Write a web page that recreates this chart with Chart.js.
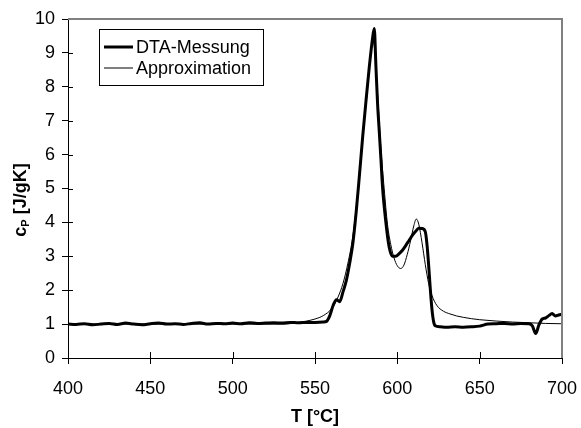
<!DOCTYPE html>
<html lang="de">
<head>
  <meta charset="UTF-8" />
  <title>cp DTA</title>
  <script src="https://cdn.jsdelivr.net/npm/chart.js"></script>
  <style>
    html, body { margin: 0; padding: 0; background: #fff; }
    #wrap { width: 581px; height: 428px; }
  </style>
</head>
<body>
  <div id="wrap"><canvas id="chart" width="581" height="428"></canvas></div>

  <script>
    // DTA-Messung (thick line)
    const dtaT = [400, 405, 410, 415, 420, 425, 430, 435, 440, 445, 450, 455, 460, 465, 470, 475, 480, 485, 490, 495,
      500, 505, 510, 515, 520, 525, 530, 535, 540, 545, 550, 555, 557, 559, 561, 563, 565, 567, 569, 571,
      573, 575, 577, 579, 581, 583, 585, 586, 587, 588, 589, 590, 591, 593, 595, 597, 599, 601, 603, 605,
      607, 609, 611, 613, 615, 617, 618, 619, 620, 621, 622, 623, 626, 630, 635, 640, 645, 650, 655, 660,
      665, 670, 675, 680, 682, 684, 686, 688, 690, 692, 694, 696, 698, 700];
    const dtaCp = [1.00, 0.99, 1.01, 0.98, 1.00, 1.02, 0.99, 1.03, 1.00, 0.98, 1.01, 1.03, 1.00, 1.01, 0.99, 1.02, 1.04, 1.00, 1.02, 1.01,
      1.03, 1.01, 1.04, 1.02, 1.03, 1.04, 1.03, 1.05, 1.04, 1.05, 1.05, 1.06, 1.08, 1.25, 1.55, 1.72, 1.66, 1.95, 2.28, 2.78,
      3.38, 4.30, 5.40, 6.55, 7.60, 8.60, 9.45, 9.72, 8.60, 7.50, 6.70, 5.90, 5.05, 4.02, 3.28, 3.00, 3.00, 3.07, 3.17, 3.31,
      3.46, 3.61, 3.73, 3.83, 3.82, 3.72, 3.35, 2.75, 2.05, 1.45, 1.08, 0.95, 0.92, 0.91, 0.92, 0.91, 0.92, 0.94, 1.00, 1.01,
      1.02, 1.00, 1.02, 1.01, 0.95, 0.72, 0.98, 1.15, 1.18, 1.25, 1.31, 1.24, 1.27, 1.29];

    // Approximation (thin line)
    const approxT = [400, 530, 540, 550, 555, 560, 564, 567, 570, 573, 576, 579, 582, 584, 585, 586, 588, 590, 592, 594,
      596, 598, 600, 602, 604, 606, 608, 610, 611.5, 613, 615, 617, 619, 621, 624, 628, 632, 636, 640, 645,
      650, 660, 670, 680, 690, 700];
    const approxCp = [1.00, 1.00, 1.05, 1.15, 1.25, 1.45, 1.80, 2.20, 2.80, 3.60, 4.90, 6.50, 8.00, 9.10, 9.35, 9.20, 7.80, 6.20, 5.00, 3.95,
      3.35, 2.95, 2.72, 2.64, 2.74, 3.05, 3.45, 3.90, 4.10, 3.95, 3.40, 2.75, 2.20, 1.85, 1.55, 1.38, 1.30, 1.24, 1.20, 1.16,
      1.13, 1.09, 1.06, 1.04, 1.02, 1.01];

    const xTicks = [400, 450, 500, 550, 600, 650, 700];
    const yTicks = [0, 1, 2, 3, 4, 5, 6, 7, 8, 9, 10];
    const seriesNames = ['DTA-Messung', 'Approximation'];

    const FONT = '"Liberation Sans", Arial, sans-serif';

    function toPoints(xs, ys) {
      return xs.map((x, i) => ({ x: x, y: ys[i] }));
    }

    // inner halves of the tick marks + grey frame on top/right
    const framePlugin = {
      id: 'frame',
      afterDraw(chart) {
        const { ctx, chartArea: a, scales } = chart;
        ctx.save();
        ctx.strokeStyle = '#000';
        ctx.lineWidth = 1;
        ctx.beginPath();
        xTicks.forEach(v => {
          const px = Math.round(scales.x.getPixelForValue(v)) + 0.5;
          ctx.moveTo(px, a.bottom);
          ctx.lineTo(px, a.bottom - 6);
        });
        yTicks.forEach(v => {
          const py = Math.round(scales.y.getPixelForValue(v)) + 0.5;
          ctx.moveTo(a.left, py);
          ctx.lineTo(a.left + 5, py);
        });
        ctx.stroke();

        ctx.strokeStyle = '#808080';
        ctx.lineWidth = 2;
        ctx.beginPath();
        ctx.moveTo(a.left, a.top);
        ctx.lineTo(a.right, a.top);
        ctx.lineTo(a.right, a.bottom);
        ctx.stroke();
        ctx.restore();
      }
    };

    // axis titles (y title needs a subscript) and the legend box
    const labelsPlugin = {
      id: 'labels',
      afterDraw(chart) {
        const { ctx, chartArea: a } = chart;
        ctx.save();
        ctx.fillStyle = '#000';

        // x title
        ctx.font = 'bold 18px ' + FONT;
        ctx.textAlign = 'center';
        ctx.textBaseline = 'middle';
        ctx.fillText('T [°C]', (a.left + a.right) / 2, 417);

        // y title: c_P [J/gK]
        ctx.translate(20, 200);
        ctx.rotate(-Math.PI / 2);
        const big = 'bold 18px ' + FONT;
        const small = 'bold 11px ' + FONT;
        ctx.font = big;
        const w1 = ctx.measureText('c').width;
        const w3 = ctx.measureText(' [J/gK]').width;
        ctx.font = small;
        const w2 = ctx.measureText('P').width;
        let x = -(w1 + w2 + w3) / 2;
        ctx.textAlign = 'left';
        ctx.textBaseline = 'alphabetic';
        ctx.font = big;
        ctx.fillText('c', x, 6);
        x += w1;
        ctx.font = small;
        ctx.fillText('P', x, 9);
        x += w2;
        ctx.font = big;
        ctx.fillText(' [J/gK]', x, 6);
        ctx.restore();

        // legend
        ctx.save();
        ctx.fillStyle = '#fff';
        ctx.fillRect(99, 29, 164, 56);
        ctx.strokeStyle = '#000';
        ctx.lineWidth = 1;
        ctx.strokeRect(99.5, 29.5, 164, 56);
        const rows = [47, 68];
        chart.data.datasets.forEach((ds, i) => {
          ctx.strokeStyle = ds.borderColor;
          ctx.lineWidth = ds.borderWidth;
          ctx.beginPath();
          ctx.moveTo(104, rows[i]);
          ctx.lineTo(133, rows[i]);
          ctx.stroke();
          ctx.fillStyle = '#000';
          ctx.font = '18px ' + FONT;
          ctx.textAlign = 'left';
          ctx.textBaseline = 'middle';
          ctx.fillText(ds.label, 136, rows[i] + 1);
        });
        ctx.restore();
      }
    };

    new Chart(document.getElementById('chart'), {
      type: 'scatter',
      data: {
        datasets: [
          {
            label: seriesNames[0],
            data: toPoints(dtaT, dtaCp),
            showLine: true,
            borderColor: '#000',
            borderWidth: 3,
            pointRadius: 0,
            cubicInterpolationMode: 'monotone',
            order: 1
          },
          {
            label: seriesNames[1],
            data: toPoints(approxT, approxCp),
            showLine: true,
            borderColor: '#000',
            borderWidth: 1,
            pointRadius: 0,
            cubicInterpolationMode: 'monotone',
            order: 0
          }
        ]
      },
      options: {
        responsive: false,
        animation: false,
        layout: { padding: { top: 19, right: 19, left: 0, bottom: 0 } },
        plugins: {
          legend: { display: false },
          tooltip: { enabled: false }
        },
        scales: {
          x: {
            type: 'linear',
            min: 400,
            max: 700,
            afterFit: s => { s.height = 70; s.paddingLeft = 0; s.paddingRight = 0; },
            afterBuildTicks: s => { s.ticks = xTicks.map(v => ({ value: v })); },
            ticks: { color: '#000', font: { family: FONT, size: 18 }, padding: 14, maxRotation: 0 },
            grid: { drawOnChartArea: false, color: '#000', tickLength: 6 },
            border: { color: '#000', width: 1 }
          },
          y: {
            min: 0,
            max: 10,
            afterFit: s => { s.width = 68; },
            afterBuildTicks: s => { s.ticks = yTicks.map(v => ({ value: v })); },
            ticks: { color: '#000', font: { family: FONT, size: 18 }, padding: 7 },
            grid: { drawOnChartArea: false, color: '#000', tickLength: 6 },
            border: { color: '#000', width: 1 }
          }
        }
      },
      plugins: [framePlugin, labelsPlugin]
    });
  </script>
</body>
</html>
